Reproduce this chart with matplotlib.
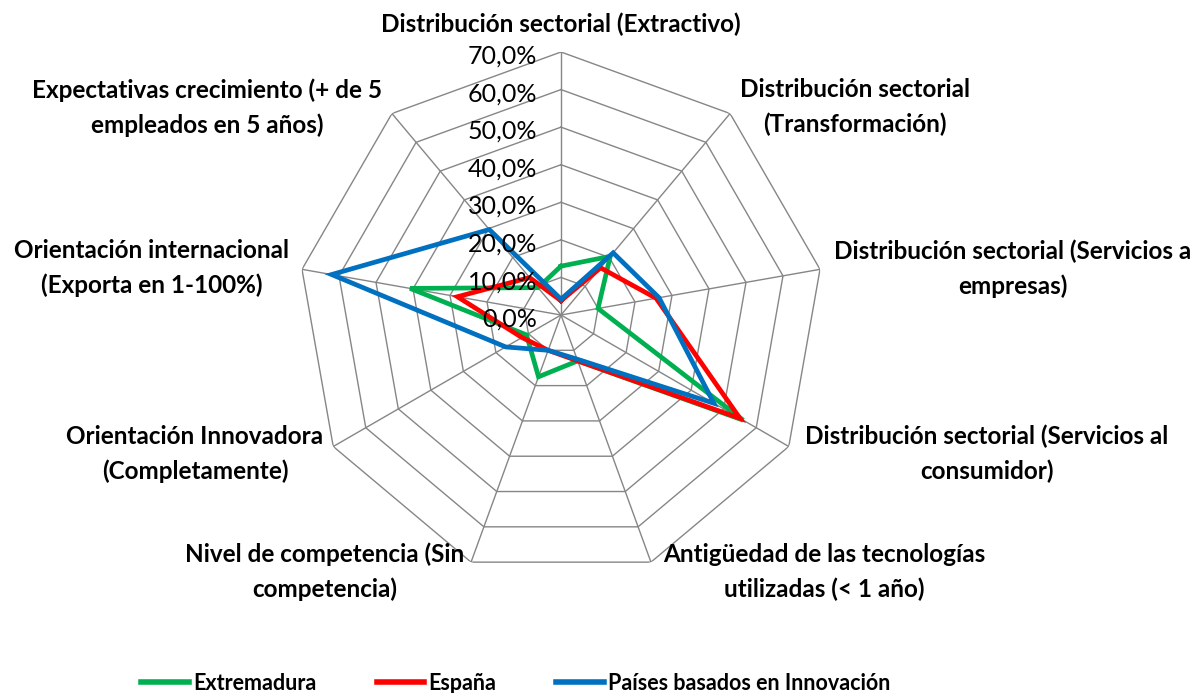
import numpy as np
import matplotlib
matplotlib.use("Agg")
import matplotlib.pyplot as plt
import matplotlib.transforms as mtransforms
from matplotlib.lines import Line2D

plt.rcParams["font.family"] = ["Lato", "DejaVu Sans"]

# axes clockwise from the top
categories = [
    "Distribución sectorial (Extractivo)",
    "Distribución sectorial\n(Transformación)",
    "Distribución sectorial (Servicios a\nempresas)",
    "Distribución sectorial (Servicios al\nconsumidor)",
    "Antigüedad de las tecnologías\nutilizadas (< 1 año)",
    "Nivel de competencia (Sin\ncompetencia)",
    "Orientación Innovadora\n(Completamente)",
    "Orientación internacional\n(Exporta en 1-100%)",
    "Expectativas crecimiento (+ de 5\nempleados en 5 años)",
]
extremadura = [13.0, 20.4, 10.0, 56.0, 13.0, 17.5, 10.6, 40.8, 9.5]
espana = [3.8, 16.4, 25.7, 55.0, 13.0, 10.0, 12.0, 28.0, 13.0]
innovacion = [4.2, 21.6, 26.5, 47.0, 12.5, 10.0, 17.0, 62.0, 29.7]
series_names = ["Extremadura", "España", "Países basados en Innovación"]
series_colors = ["#00B050", "#FF0000", "#0070C0"]
ring_values = [0, 10, 20, 30, 40, 50, 60, 70]

W, H = 1198, 693
fig = plt.figure(figsize=(W / 100, H / 100), dpi=100)

cx, cy, R = 561, 315, 263
ax = fig.add_axes([(cx - R) / W, (H - cy - R) / H, 2 * R / W, 2 * R / H], projection="polar")
ax.set_theta_zero_location("N")
ax.set_theta_direction(-1)
ax.set_ylim(0, 70)
ax.grid(False)
ax.set_xticks([])
ax.set_yticks([])
ax.spines["polar"].set_visible(False)
ax.patch.set_alpha(0)

n = len(categories)
theta = np.arange(n) * 2 * np.pi / n
theta_closed = np.append(theta, theta[0])

grid_color = "#868686"
for r in ring_values[1:]:
    ax.plot(theta_closed, [r] * (n + 1), color=grid_color, lw=1.0, zorder=1)
for t in theta:
    ax.plot([t, t], [0, 70], color=grid_color, lw=1.0, zorder=1)

for vals, name, col in zip([extremadura, espana, innovacion], series_names, series_colors):
    v = vals + vals[:1]
    ax.plot(theta_closed, v, color=col, lw=3.4, label=name, zorder=3, solid_joinstyle="miter")

# value labels left of the top spoke
off = mtransforms.offset_copy(ax.transData, fig=fig, x=-17, y=-3, units="points")
for r in ring_values:
    ax.text(0, r, f"{r},0%", transform=off, ha="right", va="center", fontsize=18, zorder=5)

# category labels (pixel centres)
label_pos = [(561, 24), (855, 107), (1013, 269), (987, 454), (824, 572),
             (325, 572), (195, 454), (152, 268), (207, 108)]
for lab, (x, y) in zip(categories, label_pos):
    fig.text(x / W, 1 - y / H, lab, ha="center", va="center", fontsize=17.5,
             fontweight="bold", linespacing=1.58)

handles = [Line2D([], [], color=c, lw=4) for c in series_colors]
fig.legend(handles, series_names, loc="center", ncol=3, frameon=False,
           bbox_to_anchor=(516 / W, 1 - 683 / H), prop={"size": 15.5, "weight": "bold"},
           handlelength=2.2, handletextpad=0.2, columnspacing=2.8)

fig.savefig("out.png", dpi=100)
